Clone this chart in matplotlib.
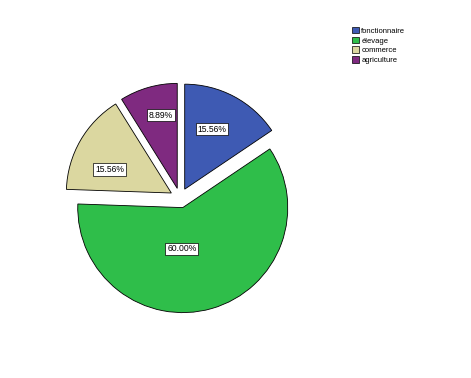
import numpy as np
import matplotlib.pyplot as plt
from matplotlib.patches import Patch

plt.rcParams['font.family'] = ['Liberation Sans', 'DejaVu Sans']

# Data
categories = ['fonctionnaire', 'élevage', 'commerce', 'agriculture']
percents = [15.56, 60.00, 15.56, 8.89]
colors = ['#3e5ab3', '#2fbe4a', '#dbd7a0', '#7f2a80']

# label placement (angle deg, distance px from pie center)
label_pos = [(65, 76), (-88, 51), (158, 76), (103, 85)]

W, H = 471, 378
fig = plt.figure(figsize=(W / 100, H / 100), dpi=100)
ax = fig.add_axes([0, 0, 1, 1])

cx, cy, r = 180, H - 198, 105
wedges, texts, autotexts = ax.pie(percents, colors=colors, startangle=90, counterclock=False,
                                  explode=[10] * 4, center=(cx, cy), radius=r,
                                  autopct='%.2f%%',
                                  wedgeprops=dict(edgecolor='black', linewidth=0.6))

for t, p, (ang, dist) in zip(autotexts, percents, label_pos):
    a = np.deg2rad(ang)
    t.set_text('%.2f%%' % p)
    t.set_position((cx + dist * np.cos(a), cy + dist * np.sin(a)))
    t.set_fontsize(6.2)
    t.set_bbox(dict(facecolor='white', edgecolor='black', linewidth=0.5, pad=1.3))

ax.set_xlim(0, W)
ax.set_ylim(0, H)
ax.set_aspect('auto')
ax.axis('off')

handles = [Patch(facecolor=c, edgecolor='black', linewidth=0.5) for c in colors]
fig.legend(handles, categories, loc='upper left', bbox_to_anchor=(349 / W, 1 - 24 / H),
           frameon=False, fontsize=5.5, handlelength=0.9, handleheight=0.9,
           handletextpad=0.3, labelspacing=0.25, borderaxespad=0)

plt.savefig('out.png', dpi=100)
